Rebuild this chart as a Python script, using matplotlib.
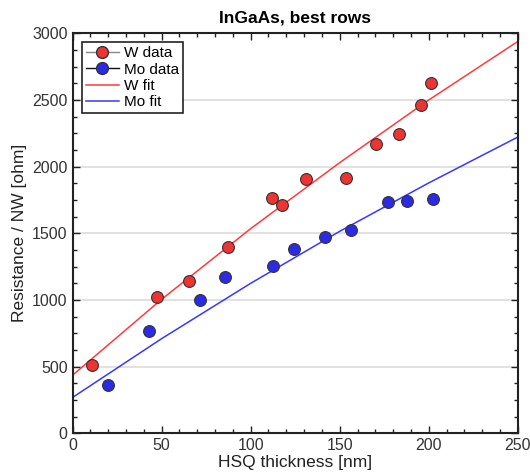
import matplotlib
matplotlib.use('Agg')
import matplotlib.pyplot as plt
from matplotlib.lines import Line2D
from matplotlib.ticker import MultipleLocator

plt.rcParams['font.family'] = ['Liberation Sans', 'DejaVu Sans']

# measured points (HSQ thickness in nm, resistance per NW in ohm)
w_thick = [11.0, 47.4, 65.2, 87.4, 111.8, 117.8, 131.0, 153.7, 170.6, 183.2, 195.6, 201.0]
w_res = [511, 1022, 1142, 1397, 1766, 1716, 1909, 1916, 2171, 2246, 2460, 2627]

mo_thick = [20.1, 43.0, 71.8, 85.5, 112.7, 124.4, 142.0, 156.3, 177.0, 187.7, 202.5]
mo_res = [364, 771, 998, 1172, 1257, 1380, 1469, 1527, 1737, 1744, 1759]

# fit curves
fit_x = [0, 50, 100, 150, 200, 250]
w_fit = [436, 1005, 1535, 2030, 2500, 2939]
mo_fit = [269, 710, 1125, 1515, 1878, 2222]

red = '#ee3333'
blue = '#2b2be6'

fig = plt.figure(figsize=(5.3, 4.76), dpi=100)
ax = fig.add_axes([0.137, 0.0897, 0.840, 0.8403])

ax.grid(axis='y', color='#dcdcdc', lw=1.2, zorder=0)
ax.plot(fit_x, w_fit, color='#ff3b3b', lw=1.1, zorder=2)
ax.plot(fit_x, mo_fit, color='#3838ff', lw=1.1, zorder=2)
ax.plot(w_thick, w_res, 'o', ms=8.5, mfc=red, mec='#333333', mew=0.8, zorder=3)
ax.plot(mo_thick, mo_res, 'o', ms=8.5, mfc=blue, mec='#333333', mew=0.8, zorder=3)

ax.set_xlim(0, 250)
ax.set_ylim(0, 3000)
ax.xaxis.set_major_locator(MultipleLocator(50))
ax.xaxis.set_minor_locator(MultipleLocator(10))
ax.yaxis.set_major_locator(MultipleLocator(500))
ax.yaxis.set_minor_locator(MultipleLocator(125))
ax.tick_params(which='both', direction='in', top=True, right=True, colors='#222222',
               labelcolor='#333333', labelsize=11.5)
ax.tick_params(which='major', length=5, width=1)
ax.tick_params(which='minor', length=3, width=1)
for s in ax.spines.values():
    s.set_linewidth(1.5)
    s.set_color('#222222')

ax.set_title('InGaAs, best rows', fontsize=12.5, fontweight='bold', pad=8)
ax.set_xlabel('HSQ thickness [nm]', fontsize=12.5, labelpad=1, color='#222222')
ax.set_ylabel('Resistance / NW [ohm]', fontsize=12.5, labelpad=4, color='#222222')

handles = [
    Line2D([], [], color='#888888', marker='o', ms=8.5, mfc=red, mec='#333333', lw=1),
    Line2D([], [], color='#111111', marker='o', ms=8.5, mfc=blue, mec='#333333', lw=1),
    Line2D([], [], color='#ff3b3b', lw=1.1),
    Line2D([], [], color='#3838ff', lw=1.1),
]
leg = ax.legend(handles, ['W data', 'Mo data', 'W fit', 'Mo fit'], loc='upper left',
                fontsize=11, fancybox=False, framealpha=1, edgecolor='#222222',
                borderpad=0.25, labelspacing=0.15, handlelength=2.2, handletextpad=0.3,
                borderaxespad=0.6)
leg.get_frame().set_linewidth(1.2)

fig.savefig('out.png', dpi=100)
